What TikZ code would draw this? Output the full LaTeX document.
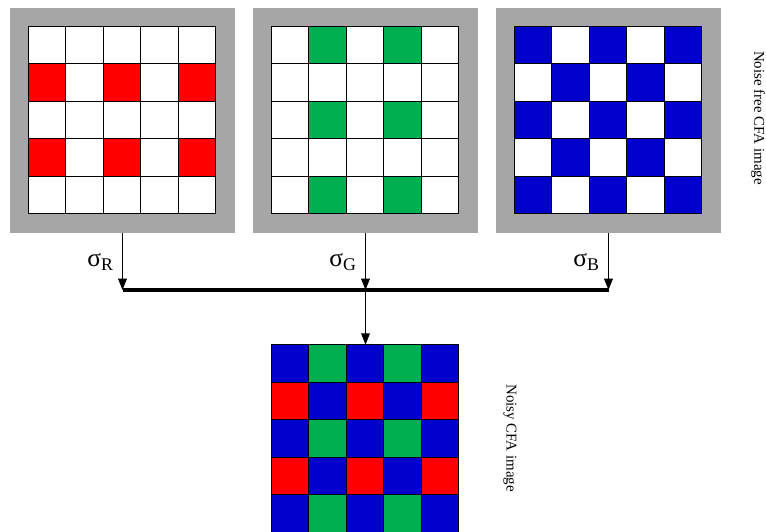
\documentclass[tikz,border=0pt]{standalone}
\usepackage{fontspec}
\setmainfont{Liberation Serif}
\usepackage{tikz}
\usetikzlibrary{arrows.meta,positioning,calc}
\definecolor{cfared}{RGB}{255,0,0}
\definecolor{cfagreen}{RGB}{0,176,80}
\definecolor{cfablue}{RGB}{0,0,204}
\definecolor{framegray}{RGB}{166,166,166}
\tikzset{
  framebox/.style={rectangle, fill=framegray, minimum size=4.5cm, inner sep=0pt},
  gridbox/.style={rectangle, minimum size=3.75cm, inner sep=0pt},
  cell/.style={draw=black, line width=0.6pt},
  feed/.style={-{Triangle[length=6.5pt, width=5pt]}, line width=0.6pt},
  bus/.style={line width=2.3pt},
  siglabel/.style={font=\fontsize{14.5}{16}\selectfont},
  sidelabel/.style={rotate=-90, font=\fontsize{8.5}{10}\selectfont},
}

\begin{document}
\begin{tikzpicture}[x=0.02cm, y=-0.02cm]
  \clip (0,0) rectangle (766,531);

  % Noise free CFA planes
  \node[framebox] (red) at (122.5,120.5) {};
  \node[framebox] (green) at (365.5,120.5) {};
  \node[framebox] (blue) at (608.5,120.5) {};

  \node[gridbox] (redgrid) at (red) {};
  \node[gridbox] (greengrid) at (green) {};
  \node[gridbox] (bluegrid) at (blue) {};
  \node[gridbox] (noisy) at (365.5,438.75) {};

  % white cells
  \foreach \g in {redgrid,greengrid,bluegrid}
    \foreach \i in {0,...,4}
      \foreach \j in {0,...,4}
        \draw[cell, fill=white] ($(\g.north west)+(37.5*\j,37.5*\i)$) rectangle +(37.5,37.5);

  % colour samples (the noisy image gets all three)
  \foreach \g in {redgrid,noisy}
    \foreach \i in {1,3}
      \foreach \j in {0,2,4}
        \draw[cell, fill=cfared] ($(\g.north west)+(37.5*\j,37.5*\i)$) rectangle +(37.5,37.5);
  \foreach \g in {greengrid,noisy}
    \foreach \i in {0,2,4}
      \foreach \j in {1,3}
        \draw[cell, fill=cfagreen] ($(\g.north west)+(37.5*\j,37.5*\i)$) rectangle +(37.5,37.5);
  \foreach \g in {bluegrid,noisy}
    \foreach \i/\cols in {0/{0,2,4},1/{1,3},2/{0,2,4},3/{1,3},4/{0,2,4}}
      \foreach \j in \cols
        \draw[cell, fill=cfablue] ($(\g.north west)+(37.5*\j,37.5*\i)$) rectangle +(37.5,37.5);

  % Noise levels
  \coordinate (barL) at (122.5,290);
  \coordinate (barM) at (365.5,290);
  \coordinate (barR) at (608.5,290);

  \draw[feed] (red.south) -- (barL);
  \draw[feed] (green.south) -- (barM);
  \draw[feed] (blue.south) -- (barR);
  \draw[bus] (barL) -- (barR);
  \draw[feed] (barM) -- (noisy.north);

  \node[siglabel, anchor=east] (sigR) at (120,262) {σ\textsubscript{R}};
  \node[siglabel, anchor=east] (sigG) at (363,262) {σ\textsubscript{G}};
  \node[siglabel, anchor=east] (sigB) at (606,262) {σ\textsubscript{B}};

  % Side labels
  \node[sidelabel] (freelabel) at (758,118) {Noise free CFA image};
  \node[sidelabel] (noisylabel) at (510,438) {Noisy CFA image};

\end{tikzpicture}
\end{document}
